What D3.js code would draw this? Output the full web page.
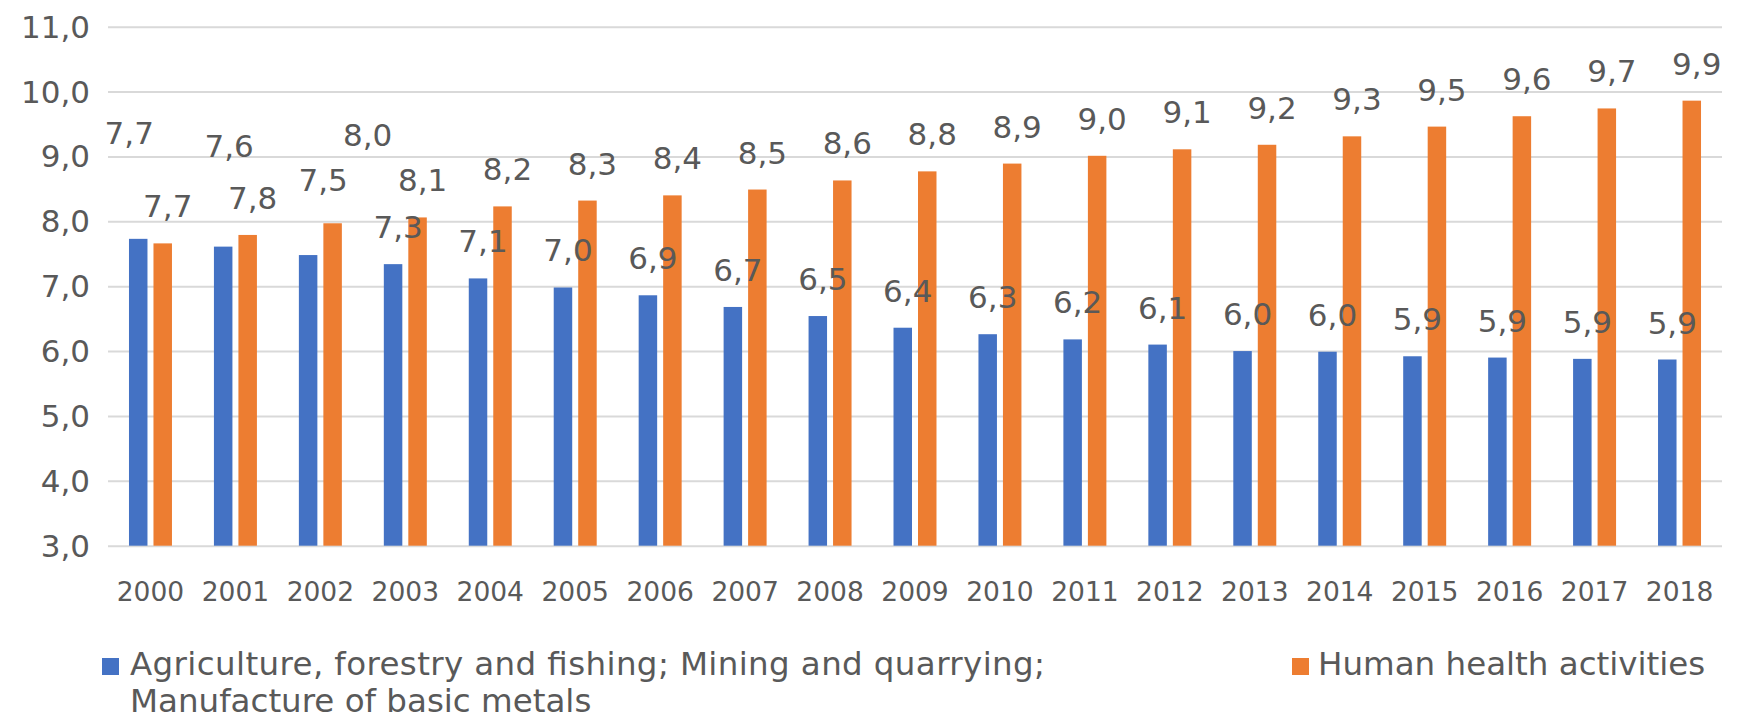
<!DOCTYPE html>
<html>
<head>
<meta charset="utf-8">
<script src="https://cdn.jsdelivr.net/npm/d3@7"></script>
<style>
  html, body { margin: 0; padding: 0; background: #ffffff; }
  svg { display: block; }
  text { font-family: "DejaVu Sans", Verdana, sans-serif; }
</style>
</head>
<body>
<svg id="chart" width="1752" height="721"></svg>
<script>
// ---------- data ----------
const years = ["2000","2001","2002","2003","2004","2005","2006","2007","2008","2009",
               "2010","2011","2012","2013","2014","2015","2016","2017","2018"];
const agriValues   = [7.73, 7.61, 7.48, 7.34, 7.12, 6.98, 6.86, 6.68, 6.54, 6.36,
                      6.26, 6.18, 6.10, 6.00, 5.99, 5.92, 5.90, 5.88, 5.87];
const healthValues = [7.66, 7.79, 7.97, 8.06, 8.23, 8.32, 8.40, 8.49, 8.63, 8.77,
                      8.89, 9.01, 9.11, 9.18, 9.31, 9.46, 9.62, 9.74, 9.86];
const seriesKeys  = ["agri", "health"];
const seriesNames = ["Agriculture, forestry and fishing; Mining and quarrying;",
                     "Manufacture of basic metals"];
const healthName  = "Human health activities";
const yTicks = [3, 4, 5, 6, 7, 8, 9, 10, 11];

// ---------- layout (not data) ----------
const colors = { agri: "#4472C4", health: "#ED7D31" };
// manual label displacements seen in the original (px)
const labelNudges = {
  agri:   { 0: [-14, -69], 1: [1, -64], 2: [10, -38] },
  health: { 2: [30, -51] }
};

const svg = d3.select("#chart");
const plotLeft = 108, plotRight = 1722, plotTop = 26.7, plotBottom = 545.7;
const textColor = "#595959";

const x0 = d3.scaleBand().domain(years).range([plotLeft, plotRight])
  .paddingInner(0.494).paddingOuter(0.247);
const x1 = d3.scaleBand().domain(seriesKeys).range([0, x0.bandwidth()])
  .paddingInner(0.245).paddingOuter(0);
const y = d3.scaleLinear().domain([3, 11]).range([plotBottom, plotTop]);

const locale = d3.formatLocale({ decimal: ",", thousands: " ", grouping: [3], currency: ["", ""] });
const fmt = locale.format(".1f");

// y axis with gridlines
const yAxis = svg.append("g")
  .attr("transform", `translate(${plotLeft},0)`)
  .call(d3.axisLeft(y).tickValues(yTicks).tickSize(-(plotRight - plotLeft)).tickPadding(18).tickFormat(fmt));
yAxis.select(".domain").remove();
yAxis.selectAll(".tick line").attr("stroke", "#d9d9d9").attr("stroke-width", 2);
yAxis.selectAll(".tick text")
  .attr("fill", textColor)
  .style("font-size", "31px")
  .attr("dy", "0.34em");

// x axis labels
const xAxis = svg.append("g")
  .attr("transform", `translate(0,${plotBottom})`)
  .call(d3.axisBottom(x0).tickSize(0).tickPadding(36));
xAxis.select(".domain").remove();
xAxis.selectAll(".tick text")
  .attr("fill", textColor)
  .style("font-size", "26.5px");

// bars
const rows = years.map((yr, i) => ({ year: yr, i, agri: agriValues[i], health: healthValues[i] }));
const groups = svg.append("g").selectAll("g")
  .data(rows).join("g")
  .attr("transform", d => `translate(${x0(d.year)},0)`);

groups.selectAll("rect")
  .data(d => seriesKeys.map(k => ({ key: k, value: d[k], i: d.i })))
  .join("rect")
  .attr("x", d => x1(d.key))
  .attr("width", x1.bandwidth())
  .attr("y", d => y(d.value))
  .attr("height", d => y(3) - y(d.value))
  .attr("fill", d => colors[d.key]);

// data labels
groups.selectAll("text.lbl")
  .data(d => seriesKeys.map(k => ({ key: k, value: d[k], i: d.i })))
  .join("text")
  .attr("class", "lbl")
  .attr("text-anchor", "middle")
  .attr("fill", textColor)
  .style("font-size", "31px")
  .attr("x", d => {
    const n = (labelNudges[d.key][d.i] || [0, 0]);
    return x1(d.key) + x1.bandwidth() / 2 + 5 + n[0];
  })
  .attr("y", d => {
    const n = (labelNudges[d.key][d.i] || [0, 0]);
    return y(d.value) - 26 + n[1];
  })
  .text(d => fmt(d.value));

// legend
const legend = svg.append("g");
legend.append("rect").attr("x", 102).attr("y", 658).attr("width", 17).attr("height", 17)
  .attr("fill", colors.agri);
legend.append("text").attr("x", 130).attr("y", 675)
  .attr("fill", textColor).style("font-size", "32.5px")
  .attr("textLength", 915).attr("lengthAdjust", "spacing")
  .text(seriesNames[0]);
legend.append("text").attr("x", 130).attr("y", 712)
  .attr("fill", textColor).style("font-size", "32.5px").text(seriesNames[1]);
legend.append("rect").attr("x", 1292).attr("y", 658).attr("width", 17).attr("height", 17)
  .attr("fill", colors.health);
legend.append("text").attr("x", 1318).attr("y", 675)
  .attr("fill", textColor).style("font-size", "32.5px").text(healthName);
</script>
</body>
</html>
